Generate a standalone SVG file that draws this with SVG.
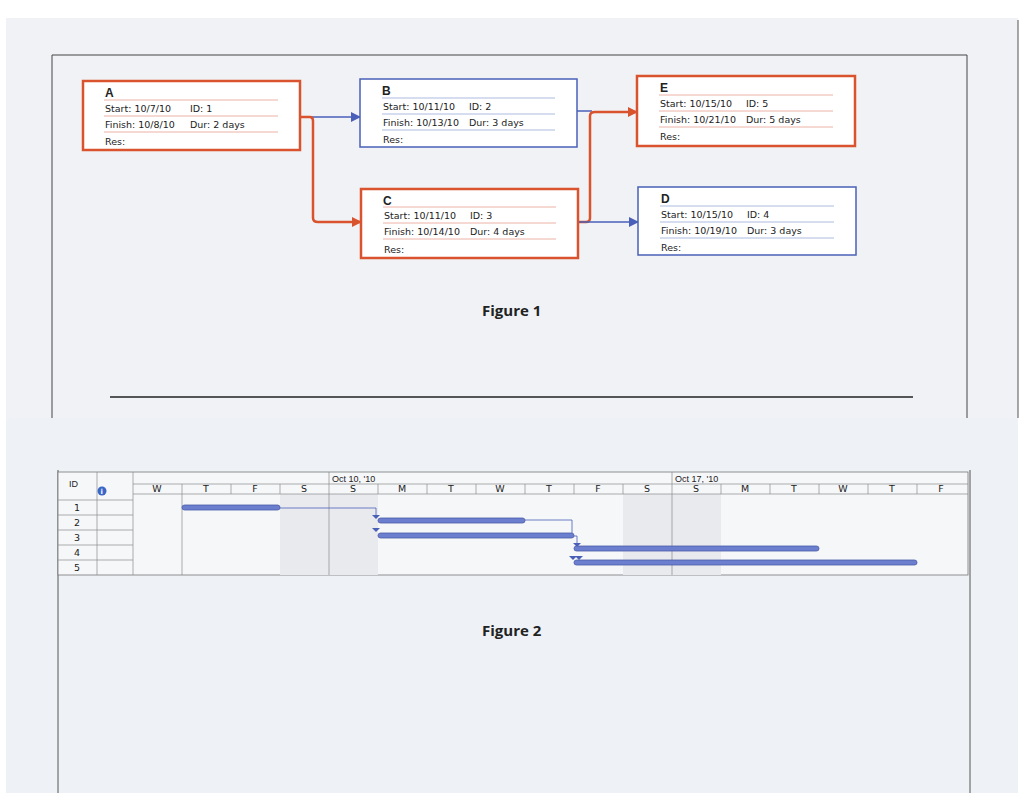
<svg xmlns="http://www.w3.org/2000/svg" width="1024" height="811" viewBox="0 0 1024 811">
<style>
text{font-family:"DejaVu Sans",sans-serif;font-size:9.5px;fill:#222}
.t{font-family:"Liberation Sans",sans-serif;font-size:12px;font-weight:bold}
.r{fill:#fff;stroke:#d9532f;stroke-width:2.5}
.b{fill:#fff;stroke:#4a60b8;stroke-width:1.5}
.rl{stroke:#e8a090;stroke-width:0.8}
.bl{stroke:#9aaad8;stroke-width:0.8}
.g{font-family:"Liberation Sans",sans-serif;font-size:9px}
.gl{stroke:#8a8a8a;stroke-width:0.7;fill:none}
.bar{fill:#6c7fcf;stroke:#4a5aa8;stroke-width:0.8}
.fig{font-family:"Open Sans",sans-serif;font-size:15px;font-weight:bold}
</style>
<defs>
<marker id="ar" markerWidth="10" markerHeight="10" refX="9" refY="5" orient="auto" markerUnits="userSpaceOnUse"><path d="M0,0L10,5L0,10z" fill="#d9532f"/></marker>
<marker id="ab" markerWidth="10" markerHeight="10" refX="9" refY="5" orient="auto" markerUnits="userSpaceOnUse"><path d="M0,0L10,5L0,10z" fill="#4a60b8"/></marker>
</defs>
<rect width="1024" height="811" fill="#fff"/>
<rect x="6" y="18" width="1012" height="400" fill="#f0f2f5"/>
<rect x="6" y="418" width="1012" height="375" fill="#eef1f5"/>
<path d="M52,55H967V418M52,55V418" fill="none" stroke="#444" stroke-width="1"/>
<path d="M58,470V793M970,470V793M1018,20V418" fill="none" stroke="#555" stroke-width="1"/>
<line x1="110" y1="397" x2="913" y2="397" stroke="#222" stroke-width="1.5"/>
<g id="connectors" fill="none">
<path d="M300,117H360" stroke="#4a60b8" stroke-width="1.5" marker-end="url(#ab)"/>
<path d="M300,117H310Q313,117 313,121V218Q313,222 318,222H361" stroke="#d9532f" stroke-width="2.5" marker-end="url(#ar)"/>
<path d="M577,111H592" stroke="#4a60b8" stroke-width="1.5"/>
<path d="M578,222H586Q590,222 590,218V116Q590,112 595,112H637" stroke="#d9532f" stroke-width="2.5" marker-end="url(#ar)"/>
<path d="M578,222H638" stroke="#4a60b8" stroke-width="1.5" marker-end="url(#ab)"/>
</g>
<g id="A"><rect class="r" x="83" y="81" width="217" height="69"/><text class="t" x="105" y="97">A</text><line class="rl" x1="104" y1="100" x2="278" y2="100"/><line class="rl" x1="104" y1="116" x2="278" y2="116"/><line class="rl" x1="104" y1="132" x2="278" y2="132"/>
<text x="105" y="112">Start:  10/7/10</text><text x="190" y="112">ID:   1</text><text x="105" y="128">Finish: 10/8/10</text><text x="190" y="128">Dur: 2 days</text><text x="105" y="145">Res:</text></g>
<g id="B"><rect class="b" x="360" y="79" width="217" height="68"/><text class="t" x="382" y="95">B</text><line class="bl" x1="382" y1="98" x2="555" y2="98"/><line class="bl" x1="382" y1="114" x2="555" y2="114"/><line class="bl" x1="382" y1="130" x2="555" y2="130"/>
<text x="383" y="110">Start:  10/11/10</text><text x="469" y="110">ID:   2</text><text x="383" y="126">Finish: 10/13/10</text><text x="469" y="126">Dur: 3 days</text><text x="383" y="143">Res:</text></g>
<g id="E"><rect class="r" x="637" y="76" width="218" height="70"/><text class="t" x="660" y="92">E</text><line class="rl" x1="659" y1="95" x2="833" y2="95"/><line class="rl" x1="659" y1="111" x2="833" y2="111"/><line class="rl" x1="659" y1="127" x2="833" y2="127"/>
<text x="660" y="107">Start:  10/15/10</text><text x="746" y="107">ID:   5</text><text x="660" y="123">Finish: 10/21/10</text><text x="746" y="123">Dur: 5 days</text><text x="660" y="140">Res:</text></g>
<g id="C"><rect class="r" x="361" y="189" width="217" height="69"/><text class="t" x="383" y="205">C</text><line class="rl" x1="383" y1="207" x2="556" y2="207"/><line class="rl" x1="383" y1="223" x2="556" y2="223"/><line class="rl" x1="383" y1="239" x2="556" y2="239"/>
<text x="384" y="219">Start:  10/11/10</text><text x="470" y="219">ID:   3</text><text x="384" y="235">Finish: 10/14/10</text><text x="470" y="235">Dur: 4 days</text><text x="384" y="253">Res:</text></g>
<g id="D"><rect class="b" x="638" y="187" width="218" height="68"/><text class="t" x="661" y="203">D</text><line class="bl" x1="660" y1="206" x2="834" y2="206"/><line class="bl" x1="660" y1="222" x2="834" y2="222"/><line class="bl" x1="660" y1="238" x2="834" y2="238"/>
<text x="661" y="218">Start:  10/15/10</text><text x="747" y="218">ID:   4</text><text x="661" y="234">Finish: 10/19/10</text><text x="747" y="234">Dur: 3 days</text><text x="661" y="251">Res:</text></g>
<text class="fig" x="482" y="316">Figure 1</text>
<g id="gantt">
<rect x="58" y="472" width="910" height="103" fill="#f6f7f9" stroke="#777" stroke-width="0.8"/>
<rect x="280" y="494" width="98" height="81" fill="#e9eaee"/>
<rect x="623" y="494" width="98" height="81" fill="#e9eaee"/>
<path class="gl" d="M58,500H133M58,515H133M58,530H133M58,545H133M58,560H133M133,484H968M133,494H968M97,472V575M133,472V575M182,484V575M329,472V575M672,472V575"/>
<path class="gl" d="M231,484V494M280,484V494M378,484V494M427,484V494M476,484V494M525,484V494M574,484V494M623,484V494M721,484V494M770,484V494M819,484V494M868,484V494M917,484V494"/>
<text class="g" x="69" y="487">ID</text>
<circle cx="102" cy="491" r="4.5" fill="#3a66c8"/><text x="100.5" y="494" style="font-size:7px;fill:#fff;font-weight:bold">i</text>
<text class="g" x="332" y="482">Oct 10, '10</text><text class="g" x="675" y="482">Oct 17, '10</text>
<g class="g" text-anchor="middle">
<text x="157" y="492">W</text><text x="206" y="492">T</text><text x="255" y="492">F</text><text x="304" y="492">S</text><text x="353" y="492">S</text><text x="402" y="492">M</text><text x="451" y="492">T</text><text x="500" y="492">W</text><text x="549" y="492">T</text><text x="598" y="492">F</text><text x="647" y="492">S</text><text x="696" y="492">S</text><text x="745" y="492">M</text><text x="794" y="492">T</text><text x="843" y="492">W</text><text x="892" y="492">T</text><text x="941" y="492">F</text>
<text x="77" y="511">1</text><text x="77" y="526">2</text><text x="77" y="541">3</text><text x="77" y="556">4</text><text x="77" y="571">5</text>
</g>
<path d="M280,508H376V518M525,520H572V533M574,536H577V546" fill="none" stroke="#4a60b8" stroke-width="0.8"/>
<path d="M372,515h8l-4,4zM372,528h8l-4,4zM573,543h8l-4,4zM569,556h8l-4,4zM575,556h8l-4,4z" fill="#4a60b8"/>
<rect class="bar" x="182" y="505" width="98" height="5" rx="2.5"/>
<rect class="bar" x="378" y="518" width="147" height="5" rx="2.5"/>
<rect class="bar" x="378" y="533" width="196" height="5" rx="2.5"/>
<rect class="bar" x="574" y="546" width="245" height="5" rx="2.5"/>
<rect class="bar" x="574" y="560" width="343" height="5" rx="2.5"/>
</g>
<text class="fig" x="482" y="636">Figure 2</text>
</svg>
